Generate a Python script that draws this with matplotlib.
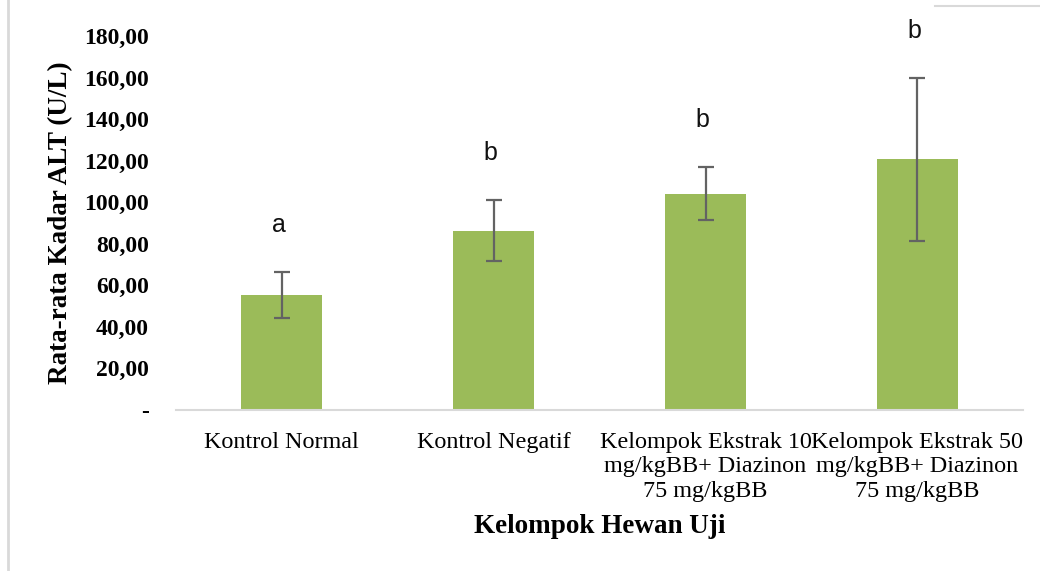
import numpy as np
import matplotlib
matplotlib.use("Agg")
import matplotlib.pyplot as plt
from matplotlib.lines import Line2D

# data
kelompok = ["Kontrol Normal", "Kontrol Negatif",
            "Kelompok Ekstrak 10\nmg/kgBB+ Diazinon\n75 mg/kgBB",
            "Kelompok Ekstrak 50\nmg/kgBB+ Diazinon\n75 mg/kgBB"]
rata_alt = [55.3, 86.3, 104.0, 120.6]
sd_alt = [11.0, 14.7, 12.8, 39.1]
notasi = ["a", "b", "b", "b"]
yticks = [0, 20, 40, 60, 80, 100, 120, 140, 160, 180]
ytick_labels = ["-", "20,00", "40,00", "60,00", "80,00", "100,00",
                "120,00", "140,00", "160,00", "180,00"]

fig = plt.figure(figsize=(10.4, 5.71), dpi=100)
ax = fig.add_axes([0.169, 0.282, 0.815, 0.655])

x = np.arange(len(kelompok))
ax.bar(x, rata_alt, width=0.38, color="#9BBB59", zorder=2)
ax.errorbar(x, rata_alt, yerr=sd_alt, fmt="none", ecolor="#636363",
            elinewidth=1.6, capsize=6, capthick=1.6, zorder=3)

# huruf notasi di atas error bar
for i in range(len(x)):
    ax.annotate(notasi[i], (x[i], rata_alt[i] + sd_alt[i]),
                xytext=(-2, 34), textcoords="offset points",
                ha="center", va="center", fontsize=18,
                family="Liberation Sans", color="#111111")

ax.set_xlim(-0.5, len(kelompok) - 0.5)
ax.set_ylim(0, 180)
ax.set_yticks(yticks)
ax.set_yticklabels(ytick_labels, family="Liberation Serif",
                   fontweight="bold", fontsize=17)
ax.set_xticks(x)
ax.set_xticklabels(kelompok, family="Liberation Serif", fontsize=17.4,
                   linespacing=1.2)
ax.tick_params(axis="y", length=0, pad=19.5)
ax.tick_params(axis="x", length=0, pad=16)

for s in ["top", "right", "left"]:
    ax.spines[s].set_visible(False)
ax.spines["bottom"].set_color("#d9d9d9")
ax.spines["bottom"].set_linewidth(1.5)

ax.set_ylabel("Rata-rata Kadar ALT (U/L)", family="Liberation Serif",
              fontweight="bold", fontsize=19.5, labelpad=10)
ax.set_xlabel("Kelompok Hewan Uji", family="Liberation Serif",
              fontweight="bold", fontsize=19.5, labelpad=9)
ax.yaxis.set_label_coords(-0.121, 0.5)

# sisa bingkai grafik
fig.add_artist(Line2D([7.5 / 1040, 7.5 / 1040], [0, 1], color="#d9d9d9", lw=2))
fig.add_artist(Line2D([935 / 1040, 1], [1 - 6 / 571, 1 - 6 / 571],
                      color="#d9d9d9", lw=1.5))

fig.savefig("out.png", dpi=100)
